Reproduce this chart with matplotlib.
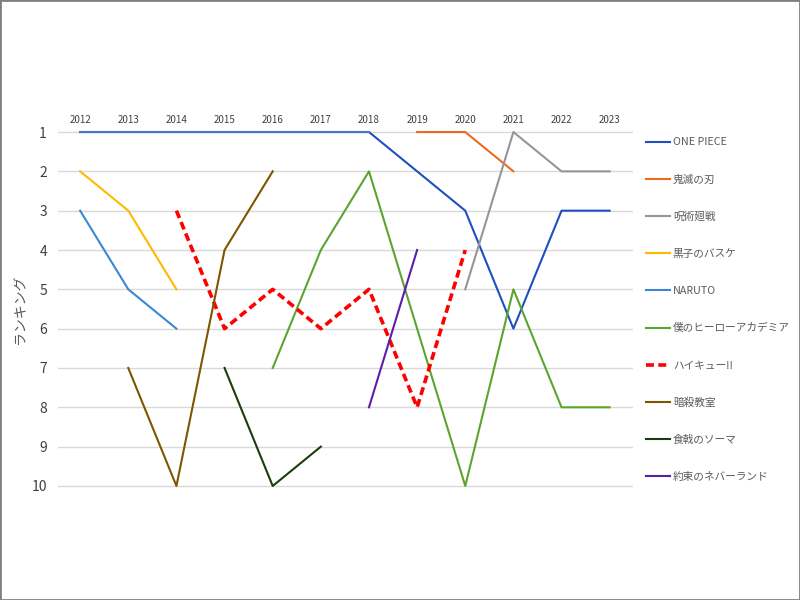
import numpy as np
import matplotlib
matplotlib.use('Agg')
import matplotlib.pyplot as plt
from matplotlib.patches import Rectangle

plt.rcParams['font.family'] = ['Noto Sans CJK JP', 'DejaVu Sans']

# -----------------------
# DATA
# -----------------------
years = list(range(2012, 2024))

one_piece = [1, 1, 1, 1, 1, 1, 1, 2, 3, 6, 3, 3]
kimetsu = [None, None, None, None, None, None, None, 1, 1, 2, None, None]
jujutsu = [None, None, None, None, None, None, None, None, 5, 1, 2, 2]
kuroko = [2, 3, 5, None, None, None, None, None, None, None, None, None]
naruto = [3, 5, 6, None, None, None, None, None, None, None, None, None]
hero = [None, None, None, None, 7, 4, 2, 6, 10, 5, 8, 8]
haikyu = [None, None, 3, 6, 5, 6, 5, 8, 4, None, None, None]
ansatsu = [None, 7, 10, 4, 2, None, None, None, None, None, None, None]
shokugeki = [None, None, None, 7, 10, 9, None, None, None, None, None, None]
neverland = [None, None, None, None, None, None, 8, 4, None, None, None, None]

series = [
    ('ONE PIECE', one_piece, '#1f4fbf', '-'),
    ('鬼滅の刃', kimetsu, '#ee6a1f', '-'),
    ('呪術廻戦', jujutsu, '#969696', '-'),
    ('黒子のバスケ', kuroko, '#ffb900', '-'),
    ('NARUTO', naruto, '#3a87d4', '-'),
    ('僕のヒーローアカデミア', hero, '#5aa52e', '-'),
    ('ハイキュー!!', haikyu, '#ff0000', '--'),
    ('暗殺教室', ansatsu, '#7f5500', '-'),
    ('食戟のソーマ', shokugeki, '#1b3d0c', '-'),
    ('約束のネバーランド', neverland, '#5a1ea8', '-'),
]

# -----------------------
# PLOT
# -----------------------
fig = plt.figure(figsize=(8, 6), dpi=100)
fig.patches.append(Rectangle((0, 0), 1, 1, transform=fig.transFigure,
                             fill=False, edgecolor='#808080', linewidth=2))

ax = fig.add_axes([0.0725, 0.1835, 0.7185, 0.603])

for label, vals, color, ls in series:
    y = np.array([np.nan if v is None else v for v in vals], dtype=float)
    if ls == '--':
        ax.plot(years, y, color=color, linewidth=2.6, linestyle='--',
                dashes=(2.2, 1.2), label=label, clip_on=False)
    else:
        ax.plot(years, y, color=color, linewidth=1.5, label=label,
                clip_on=False)

# first part of ONE PIECE drawn in a lighter blue like the original
ax.plot(years[:7], one_piece[:7], color='#4a78c8', linewidth=1.5,
        clip_on=False)

ax.set_xlim(2011.54, 2023.48)
ax.set_ylim(10.1, 0.9)
ax.set_yticks(range(1, 11))
ax.set_xticks(years)
ax.xaxis.tick_top()
ax.tick_params(axis='x', length=0, labelsize=7, colors='#404040', pad=2)
ax.tick_params(axis='y', length=0, labelsize=10, colors='#404040', pad=8)
ax.grid(axis='y', color='#d9d9d9', linewidth=1)
ax.set_axisbelow(True)
for s in ax.spines.values():
    s.set_visible(False)

ax.set_ylabel('ランキング', color='#595959', fontsize=10)
ax.yaxis.set_label_coords(-0.053, 0.5)

fig.legend(loc='upper left', bbox_to_anchor=(0.795, 0.787), frameon=False,
           fontsize=7.7, labelspacing=2.52, handlelength=2.3,
           handletextpad=0.25, labelcolor='#595959')

plt.savefig('out.png', dpi=100)
